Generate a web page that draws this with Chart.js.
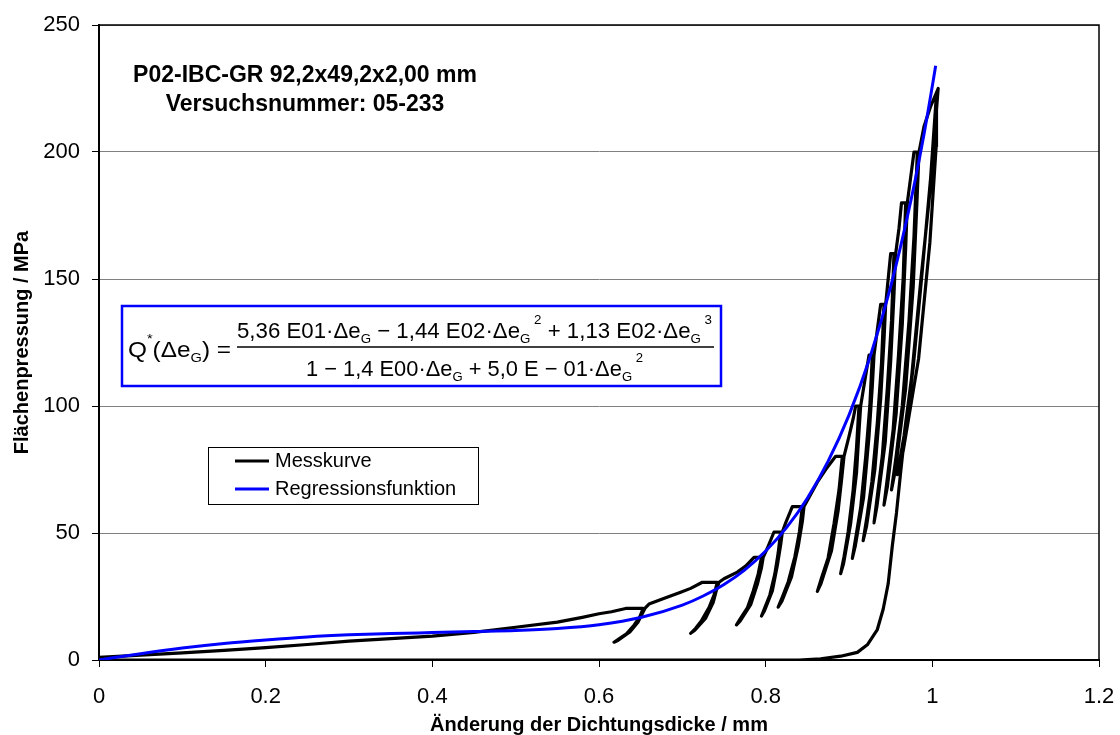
<!DOCTYPE html>
<html>
<head>
<meta charset="utf-8">
<script src="https://cdn.jsdelivr.net/npm/chart.js@4.4.0/dist/chart.umd.min.js"></script>
<style>
  body { margin: 0; background: #fff; }
  #wrap { width: 1120px; height: 735px; }
</style>
</head>
<body>
<div id="wrap"><canvas id="chart" width="1120" height="735"></canvas></div>
<script>
const startLoad = [[0,1],[0.05,1.9],[0.1,2.8],[0.15,3.8],[0.2,4.9],[0.25,6.1],[0.3,7.4],[0.35,8.4],[0.4,9.4],[0.45,10.9],[0.5,12.9],[0.55,14.9],[0.58,16.8],[0.6,18.2],[0.615,19],[0.632,20.3],[0.653,20.3]];
const cycle20 = [[0.649,17.0],[0.642,13.7],[0.633,10.3],[0.624,8.3],[0.618,7.0],[0.623,7.8],[0.637,11.0],[0.647,15.0],[0.652,18.3],[0.655,20.3]];
const load30 = [[0.66,22],[0.676,24],[0.698,26.7],[0.71,28.2],[0.724,30.6],[0.742,30.6]];
const cycle30 = [[0.738,25.6],[0.732,20.6],[0.723,15.5],[0.716,12.5],[0.71,10.5],[0.715,11.7],[0.728,16.5],[0.737,22.6],[0.741,27.6],[0.744,30.6]];
const load40 = [[0.75,32],[0.766,34.6],[0.776,37],[0.786,40.4],[0.795,40.4]];
const cycle40 = [[0.791,33.8],[0.785,27.1],[0.778,20.5],[0.77,16.5],[0.765,13.8],[0.7695,15.4],[0.782,21.8],[0.79,29.8],[0.795,36.4],[0.797,40.4]];
const load50 = [[0.802,44],[0.81,50.4],[0.818,50.4]];
const cycle50 = [[0.815,42.1],[0.811,33.9],[0.805,25.6],[0.799,20.6],[0.795,17.3],[0.7985,19.3],[0.808,27.2],[0.814,37.2],[0.818,45.4],[0.82,50.4]];
const load60 = [[0.824,54],[0.832,60.4],[0.844,60.4]];
const cycle60 = [[0.8405,50.5],[0.835,40.6],[0.827,30.7],[0.82,24.8],[0.815,20.8],[0.8195,23.2],[0.831,32.7],[0.839,44.6],[0.844,54.5],[0.846,60.4]];
const load80 = [[0.852,64],[0.862,70],[0.872,75],[0.884,80.2],[0.892,80.2]];
const cycle80 = [[0.888,66.9],[0.882,53.6],[0.875,40.3],[0.867,32.3],[0.862,27],[0.8665,30.2],[0.879,43],[0.887,58.9],[0.8915,72.2],[0.894,80.2]];
const load100 = [[0.9,88],[0.905,95],[0.908,100],[0.912,100]];
const cycle100 = [[0.909,83.5],[0.905,67],[0.899,50.5],[0.894,40.6],[0.89,34],[0.8935,38],[0.902,53.8],[0.909,73.6],[0.912,90.1],[0.914,100]];
const load120 = [[0.919,110],[0.924,120],[0.928,120]];
const cycle120 = [[0.925,100],[0.92,80],[0.914,60],[0.908,48],[0.904,40],[0.9075,44.8],[0.9175,64],[0.924,88],[0.928,108],[0.93,120]];
const load140 = [[0.934,130],[0.938,140],[0.942,140]];
const cycle140 = [[0.939,116.8],[0.934,93.5],[0.9275,70.3],[0.9215,56.3],[0.917,47],[0.921,52.6],[0.931,74.9],[0.938,102.8],[0.942,126],[0.944,140]];
const load160 = [[0.947,150],[0.95,160],[0.954,160]];
const cycle160 = [[0.951,133.5],[0.946,107],[0.94,80.5],[0.934,64.6],[0.93,54],[0.9335,60.4],[0.9435,85.8],[0.95,117.6],[0.954,144.1],[0.956,160]];
const load180 = [[0.96,170],[0.963,180],[0.968,180]];
const cycle180 = [[0.965,150.3],[0.9595,120.5],[0.953,90.8],[0.9465,72.9],[0.942,61],[0.946,68.1],[0.9565,96.7],[0.964,132.4],[0.968,162.2],[0.97,180]];
const load200 = [[0.974,190],[0.978,200],[0.982,200]];
const cycle200 = [[0.978,166.8],[0.972,133.5],[0.964,100.3],[0.9566,80.3],[0.951,67],[0.9558,75],[0.968,106.9],[0.977,146.8],[0.9815,180],[0.984,200]];
const load225 = [[0.99,210],[0.998,218],[1.007,225]];
const cycle225 = [[0.998,187],[0.986,149],[0.975,111],[0.966,88.2],[0.958,73],[0.9649,82.1],[0.9835,118.6],[0.997,164.2],[1.0046,202.2],[1.005,223]];
const finalUnload = [[0.998,190],[0.987,150],[0.977,115],[0.968,92],[0.962,74],[0.957,58],[0.952,45],[0.947,30],[0.941,20],[0.934,12],[0.922,6],[0.91,3],[0.89,1.5],[0.866,0.5],[0.84,0],[0,0]];

// Regressionsfunktion
const regX = [0,0.05,0.1,0.15,0.2,0.25,0.3,0.35,0.4,0.45,0.5,0.55,0.6,0.65,0.7,0.725,0.75,0.775,0.8,0.825,0.85,0.875,0.9,0.925,0.95,0.975,0.99,1.0,1.004];
const regY = [0,2.5,4.7,6.5,7.9,9.1,9.9,10.4,10.8,11.2,11.6,12.4,13.9,16.7,21.6,25.2,29.7,35.5,42.9,52.1,63.7,78.3,96.4,119,147,182,207,226,234];

const xTicks = [0, 0.2, 0.4, 0.6, 0.8, 1, 1.2];
const xTickLabels = ['0', '0.2', '0.4', '0.6', '0.8', '1', '1.2'];
const yTicks = [0, 50, 100, 150, 200, 250];

const specimenText = 'P02-IBC-GR 92,2x49,2x2,00 mm';
const testText = 'Versuchsnummer: 05-233';
const legendLabels = ['Messkurve', 'Regressionsfunktion'];

const FONT = '"Liberation Sans", Arial, sans-serif';

const messkurve = [].concat(
  startLoad, cycle20, load30, cycle30, load40, cycle40, load50, cycle50,
  load60, cycle60, load80, cycle80, load100, cycle100, load120, cycle120,
  load140, cycle140, load160, cycle160, load180, cycle180, load200, cycle200,
  load225, cycle225, finalUnload
).map(p => ({ x: p[0], y: p[1] }));
const regression = regX.map((x, i) => ({ x, y: regY[i] }));

// formula pieces: [text, '' | 'sub' | 'sup']
const eqLeft = [['Q',''],['*','sup'],['(Δe',''],['G','sub'],[') =','']];
const eqNum = [['5,36 E01·Δe',''],['G','sub'],[' − 1,44 E02·Δe',''],['G','sub'],[' 2','sup'],[' + 1,13 E02·Δe',''],['G','sub'],[' 3','sup']];
const eqDen = [['1 − 1,4 E00·Δe',''],['G','sub'],[' + 5,0 E − 01·Δe',''],['G','sub'],[' 2','sup']];

function richWidth(ctx, parts, size) {
  let w = 0;
  for (const [t, k] of parts) {
    ctx.font = (k ? size * 0.6 : size) + 'px ' + FONT;
    w += ctx.measureText(t).width;
  }
  return w;
}

function drawRich(ctx, parts, x0, x1, y, size) {
  const sx = (x1 - x0) / richWidth(ctx, parts, size);
  ctx.save();
  ctx.translate(x0, y);
  ctx.scale(sx, 1);
  let cx = 0;
  for (const [t, k] of parts) {
    const s = k ? size * 0.6 : size;
    ctx.font = s + 'px ' + FONT;
    const dy = k === 'sub' ? size * 0.22 : (k === 'sup' ? -size * 0.62 : 0);
    ctx.fillText(t, cx, dy);
    cx += ctx.measureText(t).width;
  }
  ctx.restore();
}

const overlay = {
  id: 'overlay',
  afterDraw(chart) {
    const { ctx, chartArea: a } = chart;
    ctx.save();
    // plot frame top / right
    ctx.strokeStyle = '#000';
    ctx.lineWidth = 1.5;
    ctx.beginPath();
    ctx.moveTo(a.left, a.top);
    ctx.lineTo(a.right, a.top);
    ctx.lineTo(a.right, a.bottom);
    ctx.stroke();

    // specimen note
    ctx.fillStyle = '#000';
    ctx.textAlign = 'center';
    ctx.textBaseline = 'middle';
    ctx.font = 'bold 23px ' + FONT;
    ctx.fillText(specimenText, 305, 76);
    ctx.fillText(testText, 305, 105);

    // formula box
    ctx.fillStyle = '#fff';
    ctx.fillRect(122, 306, 599, 80);
    ctx.strokeStyle = '#0000ff';
    ctx.lineWidth = 2.5;
    ctx.strokeRect(122, 306, 599, 80);
    ctx.fillStyle = '#000';
    ctx.textAlign = 'left';
    ctx.textBaseline = 'alphabetic';
    drawRich(ctx, eqLeft, 128, 231, 357, 22);
    drawRich(ctx, eqNum, 237, 712, 338, 22);
    drawRich(ctx, eqDen, 306, 643, 376, 22);
    ctx.strokeStyle = '#000';
    ctx.lineWidth = 1.3;
    ctx.beginPath();
    ctx.moveTo(237, 347);
    ctx.lineTo(714, 347);
    ctx.stroke();

    // legend
    ctx.fillStyle = '#fff';
    ctx.fillRect(208, 447, 270, 57);
    ctx.strokeStyle = '#000';
    ctx.lineWidth = 1;
    ctx.strokeRect(208.5, 447.5, 270, 57);
    const legendColors = ['#000000', '#0000ff'];
    const legendY = [461, 489];
    ctx.lineWidth = 3;
    ctx.textBaseline = 'middle';
    ctx.font = '20px ' + FONT;
    legendLabels.forEach((lab, i) => {
      ctx.strokeStyle = legendColors[i];
      ctx.beginPath();
      ctx.moveTo(235, legendY[i]);
      ctx.lineTo(269, legendY[i]);
      ctx.stroke();
      ctx.fillStyle = '#000';
      ctx.fillText(lab, 275, legendY[i]);
    });
    ctx.restore();
  }
};

new Chart(document.getElementById('chart'), {
  type: 'scatter',
  data: {
    datasets: [
      {
        label: legendLabels[1],
        data: regression,
        showLine: true,
        borderColor: '#0000ff',
        borderWidth: 3,
        pointRadius: 0,
        cubicInterpolationMode: 'monotone',
        order: 1
      },
      {
        label: legendLabels[0],
        data: messkurve,
        showLine: true,
        borderColor: '#000000',
        borderWidth: 3.2,
        borderJoinStyle: 'round',
        pointRadius: 0,
        tension: 0,
        order: 2
      }
    ]
  },
  options: {
    responsive: false,
    animation: false,
    layout: { padding: { top: 25, right: 21, left: 0, bottom: 0 } },
    plugins: {
      legend: { display: false },
      tooltip: { enabled: false }
    },
    scales: {
      x: {
        type: 'linear',
        min: 0,
        max: 1.2,
        afterFit: s => { s.height = 75; s.paddingLeft = 0; s.paddingRight = 0; },
        afterBuildTicks: s => { s.ticks = xTicks.map(v => ({ value: v })); },
        ticks: {
          color: '#000',
          padding: 17,
          font: { family: FONT, size: 22 },
          callback: (v, i) => xTickLabels[i]
        },
        grid: { drawOnChartArea: false, color: '#000', tickLength: 7 },
        border: { color: '#000', width: 2 },
        title: {
          display: true,
          text: 'Änderung der Dichtungsdicke / mm',
          color: '#000',
          padding: { top: 0, bottom: 0 },
          font: { family: FONT, size: 20, weight: 'bold', lineHeight: 1 }
        }
      },
      y: {
        min: 0,
        max: 250,
        afterFit: s => { s.width = 99; s.paddingTop = 0; s.paddingBottom = 0; },
        afterBuildTicks: s => { s.ticks = yTicks.map(v => ({ value: v })); },
        ticks: { color: '#000', padding: 12, font: { family: FONT, size: 22 } },
        grid: { color: '#808080', lineWidth: 1, tickColor: '#000', tickLength: 7 },
        border: { color: '#000', width: 2 },
        title: {
          display: true,
          text: 'Flächenpressung / MPa',
          color: '#000',
          padding: { top: 12, bottom: 0 },
          font: { family: FONT, size: 20, weight: 'bold', lineHeight: 1 }
        }
      }
    }
  },
  plugins: [overlay]
});
</script>
</body>
</html>
